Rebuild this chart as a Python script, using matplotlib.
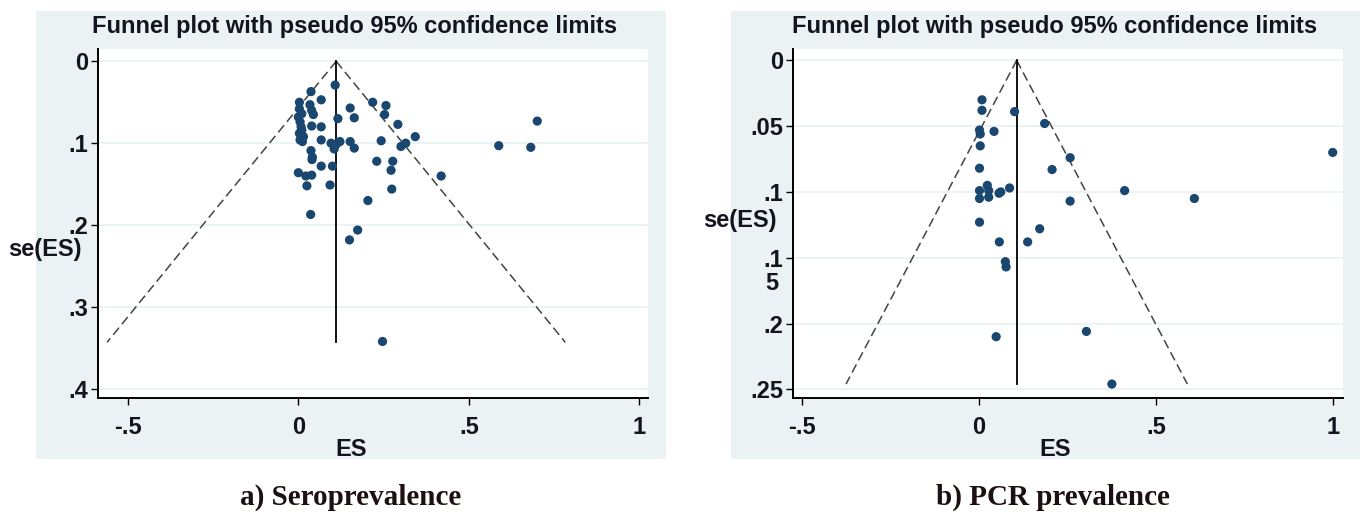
import numpy as np
import matplotlib
matplotlib.use("Agg")
import matplotlib.pyplot as plt
from matplotlib.patches import Rectangle

# ---- data ----
# a) Seroprevalence
sero_es = [0.108, 0.037, 0.067, 0.003, 0.034, 0.152, 0.218, 0.257, 0.003, 0.039,
           0.010, 0.044, 0.253, 0.116, 0.164, 0.005, 0.008, 0.039, 0.067, 0.292,
           0.010, 0.015, 0.343, 0.005, 0.067, 0.096, 0.122, 0.105, 0.152, 0.164,
           0.243, 0.301, 0.315, 0.037, 0.041, 0.067, 0.100, 0.230, 0.277, 0.272,
           0.000, 0.022, 0.039, 0.419, 0.025, 0.093, 0.274, 0.204, 0.036, 0.174,
           0.150, 0.588, 0.682, 0.701, 0.247, 0.000, 0.003, 0.012, 0.112, 0.040]
sero_se = [0.029, 0.037, 0.047, 0.050, 0.053, 0.057, 0.050, 0.054, 0.058, 0.060,
           0.064, 0.065, 0.065, 0.070, 0.069, 0.074, 0.080, 0.079, 0.080, 0.077,
           0.084, 0.092, 0.092, 0.096, 0.096, 0.100, 0.098, 0.107, 0.098, 0.106,
           0.097, 0.104, 0.100, 0.109, 0.117, 0.128, 0.128, 0.122, 0.122, 0.133,
           0.136, 0.140, 0.139, 0.140, 0.152, 0.151, 0.156, 0.170, 0.187, 0.206,
           0.218, 0.103, 0.105, 0.073, 0.342, 0.068, 0.088, 0.098, 0.101, 0.120]
sero_pooled = 0.111
sero_semax = 0.343

# b) PCR prevalence
pcr_es = [0.008, 0.008, 0.100, 0.185, 0.001, 0.042, 0.003, 0.003, 0.999, 0.257,
          0.001, 0.206, 0.023, 0.001, 0.027, 0.056, 0.061, 0.086, 0.411, 0.001,
          0.027, 0.608, 0.257, 0.001, 0.171, 0.057, 0.137, 0.074, 0.076, 0.303,
          0.048, 0.375]
pcr_se = [0.030, 0.038, 0.039, 0.048, 0.053, 0.054, 0.056, 0.065, 0.070, 0.074,
          0.082, 0.083, 0.095, 0.099, 0.099, 0.101, 0.100, 0.097, 0.099, 0.105,
          0.104, 0.105, 0.107, 0.123, 0.128, 0.138, 0.138, 0.153, 0.157, 0.206,
          0.210, 0.246]
pcr_pooled = 0.106
pcr_semax = 0.246

sero_yticks = [0, 0.1, 0.2, 0.3, 0.4]
sero_ylabels = ["0", ".1", ".2", ".3", ".4"]
pcr_yticks = [0, 0.05, 0.1, 0.15, 0.2, 0.25]
pcr_ylabels = ["0", ".05", ".1", ".1", ".2", ".25"]
xticks = [-0.5, 0, 0.5, 1]
xlabels = ["-.5", "0", ".5", "1"]

TITLE = "Funnel plot with pseudo 95% confidence limits"

SANS = "Liberation Sans"
SERIF = "Liberation Serif"
BG = "#eaf2f3"
NAVY = "#1a476f"
INK = "#141420"
FS = 17
WT = "bold"

fig = plt.figure(figsize=(13.6, 5.14), dpi=100)
W, H = 1360.0, 514.0

def px(x0, y0, x1, y1):
    # pixel box -> figure fraction [left, bottom, width, height]
    return [x0 / W, 1 - y1 / H, (x1 - x0) / W, (y1 - y0) / H]

# panel backgrounds, behind the axes
for box in [(36, 11, 666, 459), (731, 11, 1360, 459)]:
    l, b, w, h = px(*box)
    fig.patches.append(Rectangle((l, b), w, h, transform=fig.transFigure,
                                 facecolor=BG, edgecolor="none", zorder=-5))


def funnel(ax, es, se, pooled, semax, xlim, ylim, yticks, ylabels):
    ax.set_facecolor("white")
    s = np.linspace(0, semax, 2)
    ax.plot(pooled - 1.96 * s, s, color="#444444", lw=1.1, ls=(0, (6, 3)), zorder=2)
    ax.plot(pooled + 1.96 * s, s, color="#444444", lw=1.1, ls=(0, (6, 3)), zorder=2)
    ax.plot([pooled, pooled], [0, semax], color="black", lw=1.3, zorder=2)
    ax.scatter(es, se, s=44, color=NAVY, edgecolors="none", zorder=3)
    ax.set_xlim(*xlim)
    ax.set_ylim(*ylim)
    ax.set_xticks(xticks)
    ax.set_xticklabels(xlabels)
    ax.set_yticks(yticks)
    ax.set_yticklabels(ylabels)
    ax.grid(axis="y", color=BG, lw=1.3)
    ax.set_axisbelow(True)
    for sp in ["top", "right"]:
        ax.spines[sp].set_visible(False)
    for sp in ["left", "bottom"]:
        ax.spines[sp].set_linewidth(1.4)
    ax.tick_params(axis="y", length=5, width=1, pad=2, labelsize=FS, labelcolor=INK)
    ax.tick_params(axis="x", length=5, width=1, pad=8, labelsize=FS, labelcolor=INK)
    for t in ax.get_xticklabels() + ax.get_yticklabels():
        t.set_fontfamily(SANS)
        t.set_fontweight(WT)
    ax.set_xlabel("ES", fontsize=FS, family=SANS, weight=WT, color=INK)
    ax.set_ylabel("se(ES)", fontsize=FS, family=SANS, weight=WT, color=INK,
                  rotation=0, ha="center", va="center")


ax1 = fig.add_axes(px(98, 49, 648, 398))
funnel(ax1, sero_es, sero_se, sero_pooled, sero_semax,
       (-0.588, 1.026), (0.411, -0.015), sero_yticks, sero_ylabels)
ax1.xaxis.set_label_coords(0.46, -0.115)
ax1.yaxis.set_label_coords(-0.096, 0.425)

ax2 = fig.add_axes(px(793, 49, 1343, 398))
funnel(ax2, pcr_es, pcr_se, pcr_pooled, pcr_semax,
       (-0.526, 1.028), (0.2566, -0.0086), pcr_yticks, pcr_ylabels)
ax2.xaxis.set_label_coords(0.476, -0.115)
ax2.yaxis.set_label_coords(-0.097, 0.51)
# the wrapped ".15" label: its "5" sits one line under ".1"
ax2.text(-0.027, 0.15 + 26 / 1313.0, "5", transform=ax2.get_yaxis_transform(),
         ha="right", va="center", fontsize=FS, family=SANS, weight=WT, color=INK)

fig.text(355 / W, 1 - 26 / H, TITLE, ha="center", va="center", fontsize=FS,
         family=SANS, weight=WT, color=INK)
fig.text(1055 / W, 1 - 26 / H, TITLE, ha="center", va="center", fontsize=FS,
         family=SANS, weight=WT, color=INK)

fig.text(351 / W, 1 - 497 / H, "a) Seroprevalence", ha="center", va="center",
         fontsize=21, family=SERIF, weight="bold", color="#1c1010")
fig.text(1053 / W, 1 - 497 / H, "b) PCR prevalence", ha="center", va="center",
         fontsize=21, family=SERIF, weight="bold", color="#1c1010")

fig.savefig("out.png", dpi=100, facecolor="white")
